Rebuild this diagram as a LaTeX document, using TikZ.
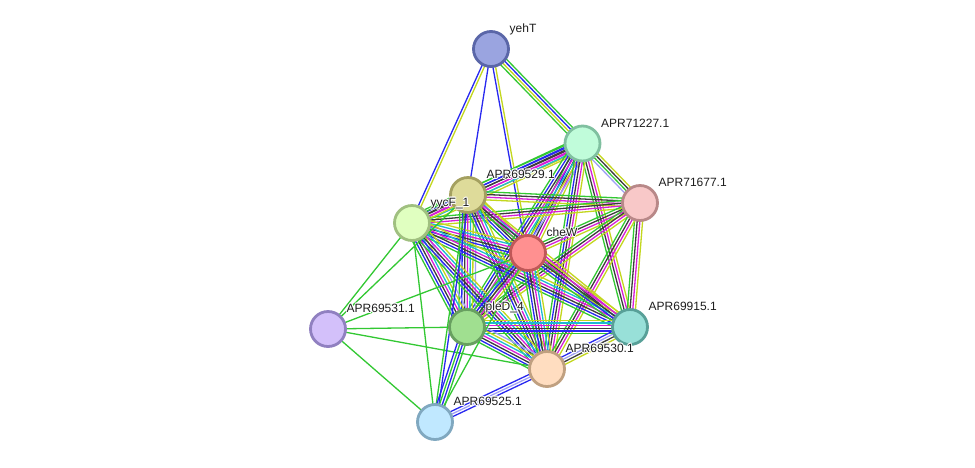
\documentclass[tikz,border=0pt]{standalone}
\usepackage{fontspec}
\setmainfont{Liberation Sans}
\usetikzlibrary{calc}
\pgfdeclarelayer{bg}
\pgfdeclarelayer{paper}
\pgfsetlayers{paper,bg,main}
\definecolor{sg}{RGB}{50,200,50}
\definecolor{sb}{RGB}{40,40,240}
\definecolor{sk}{RGB}{60,60,60}
\definecolor{sm}{RGB}{215,30,215}
\definecolor{sc}{RGB}{30,185,210}
\definecolor{sy}{RGB}{195,215,30}
\definecolor{sl}{RGB}{160,160,245}
\tikzset{
  nd/.style={circle, minimum size=35pt, inner sep=0pt, line width=2.8pt},
  lbltxt/.style={anchor=base west, inner sep=0pt, font=\fontsize{12}{12}\selectfont},
  edgeln/.style={line width=1.3pt}
}
\newcommand\medge[3]{%
  \foreach \c [count=\i] in {#3} {\xdef\nn{\i}}%
  \foreach \c [count=\i] in {#3} {%
    \pgfmathsetmacro\off{(\i-(\nn+1)/2)*2.7}%
    \draw[edgeln, color=\c] ($(#1)!\off pt!90:(#2)$) -- ($(#2)!\off pt!-90:(#1)$);
  }%
}
\newcommand\lbl[3]{%
  \foreach \dx/\dy in {0.9/0,-0.9/0,0/0.9,0/-0.9,0.65/0.65,-0.65/0.65,0.65/-0.65,-0.65/-0.65}
    \node[lbltxt, text=white] at ($(#1)+(18.5+\dx,-16.5+\dy)$) {#3};
  \node[lbltxt, text={rgb,255:red,30;green,30;blue,30}] (#2) at ($(#1)+(18.5,-16.5)$) {#3};
}
\begin{document}
\begin{tikzpicture}[x=1pt,y=-1pt]
\begin{pgfonlayer}{paper}
\fill[white] (0,0) rectangle (975,467);
\end{pgfonlayer}
\useasboundingbox (0,0) rectangle (975,467);
% nodes
\node[nd, fill={rgb,255:red,154;green,164;blue,224}, draw={rgb,255:red,90;green,102;blue,168}] (yehT) at (491,49) {};
\node[nd, fill={rgb,255:red,192;green,252;blue,218}, draw={rgb,255:red,128;green,192;blue,160}] (a1227) at (582.5,143.5) {};
\node[nd, fill={rgb,255:red,248;green,200;blue,200}, draw={rgb,255:red,184;green,136;blue,136}] (a1677) at (640,203) {};
\node[nd, fill={rgb,255:red,222;green,219;blue,154}, draw={rgb,255:red,164;green,160;blue,96}] (a9529) at (468,195) {};
\node[nd, fill={rgb,255:red,224;green,255;blue,192}, draw={rgb,255:red,160;green,192;blue,128}] (yycF) at (412,223) {};
\node[nd, fill={rgb,255:red,255;green,144;blue,144}, draw={rgb,255:red,192;green,88;blue,88}] (cheW) at (528,253) {};
\node[nd, fill={rgb,255:red,211;green,192;blue,250}, draw={rgb,255:red,144;green,128;blue,192}] (a9531) at (328,329) {};
\node[nd, fill={rgb,255:red,160;green,223;blue,144}, draw={rgb,255:red,104;green,160;blue,96}] (pleD) at (467,327) {};
\node[nd, fill={rgb,255:red,152;green,224;blue,216}, draw={rgb,255:red,88;green,160;blue,152}] (a9915) at (630,327) {};
\node[nd, fill={rgb,255:red,255;green,221;blue,192}, draw={rgb,255:red,192;green,160;blue,128}] (a9530) at (547,369) {};
\node[nd, fill={rgb,255:red,192;green,232;blue,255}, draw={rgb,255:red,128;green,168;blue,192}] (a9525) at (435,422) {};
% edges
\begin{pgfonlayer}{bg}
\medge{yehT}{a1227}{sg,sy,sb,sg}
\medge{yehT}{yycF}{sb,sy}
\medge{yehT}{a9529}{sb}
\medge{yehT}{cheW}{sb,sy}
\medge{a1227}{a1677}{sl,sg,sk,sy}
\medge{a1227}{a9529}{sg,sb,sk,sm,sy}
\medge{a1227}{yycF}{sg,sb,sk,sm,sc,sy}
\medge{a1227}{cheW}{sg,sb,sk,sm,sy}
\medge{a1227}{pleD}{sg,sb,sk,sm,sc,sy,sl}
\medge{a1227}{a9915}{sg,sk,sm,sy}
\medge{a1227}{a9530}{sg,sb,sk,sm,sy}
\medge{a1677}{a9529}{sg,sk,sm,sy}
\medge{a1677}{yycF}{sg,sk,sm,sy}
\medge{a1677}{cheW}{sg,sk,sm,sy}
\medge{a1677}{pleD}{sg,sk,sm,sy}
\medge{a1677}{a9915}{sg,sk,sm,sy}
\medge{a1677}{a9530}{sg,sk,sm,sy}
\medge{a9529}{yycF}{sg,sk,sm,sy}
\medge{a9529}{cheW}{sg,sb,sk,sm,sc,sy}
\medge{a9529}{pleD}{sg,sb,sk,sm,sc,sy,sl}
\medge{a9529}{a9915}{sg,sk,sm,sy}
\medge{a9529}{a9530}{sg,sb,sk,sm,sc,sy}
\medge{yycF}{cheW}{sg,sb,sk,sm,sc,sy}
\medge{yycF}{pleD}{sg,sb,sk,sm,sc,sy,sl}
\medge{yycF}{a9915}{sg,sb,sk,sm,sc,sy}
\medge{yycF}{a9530}{sg,sb,sk,sm,sc,sy}
\medge{cheW}{pleD}{sg,sb,sk,sm,sy}
\medge{cheW}{a9915}{sg,sb,sk,sm,sy}
\medge{cheW}{a9530}{sg,sb,sk,sm,sc,sy}
\medge{pleD}{a9915}{sg,sb,sk,sm,sc,sy}
\medge{pleD}{a9530}{sg,sb,sk,sm,sc,sy,sl}
\medge{a9915}{a9530}{sb,sl,sk,sy}
\medge{a9531}{yycF}{sg}
\medge{a9531}{a9529}{sg}
\medge{a9531}{cheW}{sg}
\medge{a9531}{pleD}{sg}
\medge{a9531}{a9530}{sg}
\medge{a9531}{a9525}{sg}
\medge{a9525}{yycF}{sg}
\medge{a9525}{a9529}{sb,sg}
\medge{a9525}{pleD}{sg,sb,sg,sb}
\medge{a9525}{cheW}{sg}
\medge{a9525}{a9530}{sb,sl,sb}
\end{pgfonlayer}
% labels
\lbl{yehT}{l-yehT}{yehT}
\lbl{a1227}{l-a1227}{APR71227.1}
\lbl{a1677}{l-a1677}{APR71677.1}
\lbl{a9529}{l-a9529}{APR69529.1}
\lbl{yycF}{l-yycF}{yycF\_1}
\lbl{cheW}{l-cheW}{cheW}
\lbl{a9531}{l-a9531}{APR69531.1}
\lbl{pleD}{l-pleD}{pleD\_4}
\lbl{a9915}{l-a9915}{APR69915.1}
\lbl{a9530}{l-a9530}{APR69530.1}
\lbl{a9525}{l-a9525}{APR69525.1}
\end{tikzpicture}
\end{document}
